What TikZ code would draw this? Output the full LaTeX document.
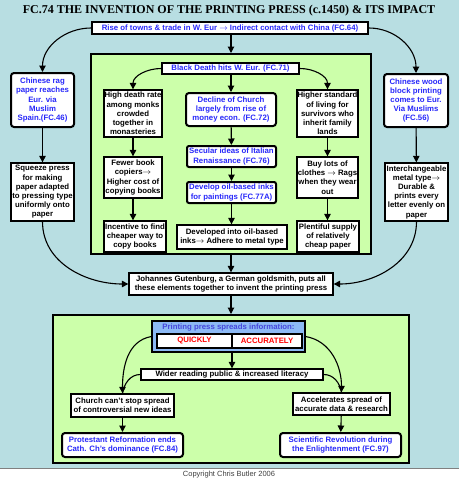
\documentclass[tikz,border=0pt]{standalone}
\usepackage{fontspec}
\setsansfont{Liberation Sans}
\newfontfamily\titlefont{Liberation Serif}
\usetikzlibrary{arrows.meta,calc}
\definecolor{bgblue}{RGB}{184,222,226}
\definecolor{panelgreen}{RGB}{204,255,170}
\definecolor{linkblue}{RGB}{40,40,250}
\definecolor{pressblue}{RGB}{140,185,245}
\definecolor{presstext}{RGB}{70,70,220}
\begin{document}
\begin{tikzpicture}[x=1pt,y=-1pt,line width=1.1pt,>={Triangle[length=6.5pt,width=6.5pt]},
  box/.style={rectangle, draw=black, line width=1.3pt, fill=white, align=center, inner sep=0.5pt,
    font=\sffamily\bfseries\fontsize{7.8}{9.2}\selectfont},
  bigbox/.style={box, line width=2pt, text=linkblue},
  linkbox/.style={bigbox, rounded corners=3pt},
  panel/.style={rectangle, draw=black, line width=2pt, fill=panelgreen}]
\useasboundingbox (0,0) rectangle (459,480);
\fill[bgblue] (0,0) rectangle (459,468);
\fill[white] (0,468) rectangle (459,480);
\draw[gray,line width=1pt] (0,468)--(459,468);
\draw (229,11) node[font=\titlefont\bfseries\fontsize{12}{14}\selectfont] (T) {FC.74 THE INVENTION OF THE PRINTING PRESS (c.1450) \& ITS IMPACT};
\draw (229,475) node[font=\sffamily\fontsize{7.5}{8}\selectfont,text=black!75] (C) {Copyright Chris Butler 2006};
% panels
\draw (231,154) node[panel,minimum width=280pt,minimum height=200pt] (P1) {};
\draw (231,389) node[panel,minimum width=356pt,minimum height=148pt] (P2) {};
% top
\draw (230,28) node[bigbox,minimum width=276pt,minimum height=12pt] (Rise) {Rise of towns \& trade in W. Eur $\rightarrow$ Indirect contact with China (FC.64)};
\draw (42.5,100) node[linkbox,minimum width=63pt,minimum height=54pt] (Rag) {Chinese rag\\paper reaches\\Eur. via\\Muslim\\Spain.(FC.46)};
\draw (42.5,192) node[box,minimum width=63pt,minimum height=58pt] (Squeeze) {Squeeze press\\for making\\paper adapted\\to pressing type\\uniformly onto\\paper};
\draw (416,100.5) node[linkbox,minimum width=64pt,minimum height=53pt] (Wood) {Chinese wood\\block printing\\comes to  Eur.\\Via Muslims\\(FC.56)};
\draw (416.5,192) node[box,minimum width=63pt,minimum height=58pt] (Metal) {Interchangeable\\metal type$\rightarrow$\\Durable \&\\prints every\\letter evenly on\\paper};
% inside first panel
\draw (230.5,68.5) node[bigbox,minimum width=137pt,minimum height=11pt] (Death) {Black Death hits W. Eur. (FC.71)};
\draw (133,113.5) node[box,minimum width=58pt,minimum height=47pt] (Monks) {High death rate\\among monks\\crowded\\together in\\monasteries};
\draw (133,177.5) node[box,minimum width=58pt,minimum height=41pt] (Copiers) {Fewer book\\copiers$\rightarrow$\\Higher cost of\\copying books};
\draw (135,236.5) node[box,minimum width=62pt,minimum height=31pt] (Incentive) {Incentive to find\\cheaper way to\\copy books};
\draw (231,109.5) node[linkbox,minimum width=90pt,minimum height=33pt] (Decline) {Decline of Church\\largely from rise of\\money econ. (FC.72)};
\draw (231.5,156.5) node[linkbox,rounded corners=2pt,minimum width=89pt,minimum height=21pt] (Secular) {Secular ideas of Italian\\Renaissance (FC.76)};
\draw (231.5,192.5) node[linkbox,rounded corners=2pt,minimum width=89pt,minimum height=21pt] (Oil) {Develop oil-based inks\\for paintings (FC.77A)};
\draw (232,237) node[box,minimum width=110pt,minimum height=24pt] (Developed) {Developed into oil-based\\inks$\rightarrow$ Adhere to metal type};
\draw (327.5,113.5) node[box,minimum width=61pt,minimum height=47pt] (Living) {Higher standard\\of living for\\survivors who\\inherit family\\lands};
\draw (327.5,177.5) node[box,minimum width=61pt,minimum height=41pt] (Rags) {Buy lots of\\clothes $\rightarrow$ Rags\\when they wear\\out};
\draw (328,236.5) node[box,minimum width=62pt,minimum height=31pt] (Plenty) {Plentiful supply\\of relatively\\cheap paper};
% gutenberg
\draw (231,284) node[box,minimum width=204pt,minimum height=22pt] (Gutenberg) {Johannes Gutenburg, a German goldsmith, puts all\\these elements together to invent the printing press};
% second panel
\draw (228.5,336.5) node[rectangle,draw=black,line width=1.3pt,fill=pressblue,minimum width=153pt,minimum height=31pt] (Press) {};
\draw (228.5,327) node[font=\sffamily\bfseries\fontsize{7.8}{9}\selectfont,text=presstext] (PressT) {Printing press spreads information:};
\draw (194.5,341) node[box,minimum width=75pt,minimum height=14pt,text=red] (Quick) {QUICKLY};
\draw (267,341) node[box,minimum width=70pt,minimum height=14pt,text=red] (Accurate) {ACCURATELY};
\draw (232,374.5) node[box,minimum width=182pt,minimum height=11pt] (Wider) {Wider reading public \& increased literacy};
\draw (122.5,405.5) node[box,minimum width=103pt,minimum height=23pt] (Church) {Church can't stop spread\\of controversial new ideas};
\draw (122.5,445) node[linkbox,minimum width=121pt,minimum height=24pt] (Reform) {Protestant Reformation ends\\Cath. Ch's dominance (FC.84)};
\draw (341.5,404) node[box,minimum width=97pt,minimum height=22pt] (Accel) {Accelerates spread of\\accurate data \& research};
\draw (340.5,445) node[linkbox,minimum width=121pt,minimum height=24pt] (Science) {Scientific Revolution during\\the Enlightenment (FC.97)};
% connectors
\draw[->] (Rise.south -| P1.north) -- (P1.north);
\draw[->] (Rise.west) to[out=180,in=90] (Rag.north);
\draw[->] (Rise.east) to[out=0,in=90] (Wood.north);
\draw[->] (Rag)--(Squeeze);
\draw[->] (Wood)--(Metal);
\draw[->] (Death.west) to[out=180,in=90] (Monks.north);
\draw[->] (Death.east) to[out=0,in=90] (Living.north);
\draw[->] (Death.south -| Decline.north) -- (Decline.north);
\draw[->] (Monks)--(Copiers);
\draw[->] (Copiers.south) -- (Copiers.south |- Incentive.north);
\draw[->] (Decline)--(Secular);
\draw[->] (Secular)--(Oil);
\draw[->] (Oil.south) -- (Oil.south |- Developed.north);
\draw[->] (Living)--(Rags);
\draw[->] (Rags.south) -- (Rags.south |- Plenty.north);
\draw[->] (Squeeze.south) to[out=-90,in=180] (Gutenberg.west);
\draw[->] (Metal.south) to[out=-90,in=0] (Gutenberg.east);
\draw[->] (P1.south) -- (P1.south |- Gutenberg.north);
\draw[->] (Gutenberg.south) -- (Gutenberg.south |- P2.north);
\draw[->] (Press.south -| Wider.north) -- (Wider.north);
\draw[->] (Press.west) to[out=190,in=90] (Church.north);
\draw (Wider.west) to[out=180,in=80] (Church.north);
\draw[->] (Press.east) to[out=-10,in=90] (Accel.north);
\draw (Wider.east) to[out=0,in=100] (Accel.north);
\draw[->] (Church)--(Reform);
\draw[->] (Accel)--(Science);
\end{tikzpicture}
\end{document}
